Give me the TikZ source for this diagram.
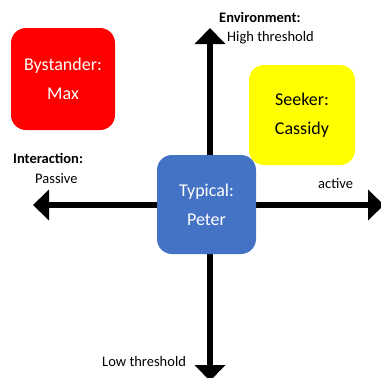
\documentclass[tikz,border=0pt]{standalone}
\usepackage{fontspec}
\setmainfont{Carlito}
\usetikzlibrary{arrows.meta}
\definecolor{boxred}{HTML}{FF0000}
\definecolor{boxyellow}{HTML}{FFFF00}
\definecolor{boxblue}{HTML}{4472C4}
\tikzset{
  quad/.style={rounded corners=15pt, align=center, inner sep=0pt,
    font=\fontsize{18}{29}\selectfont},
  axis/.style={line width=6.5pt, -{Triangle[width=30pt,length=16pt]}},
  lbl/.style={anchor=west, inner sep=0pt, font=\fontsize{14.5}{17}\selectfont}
}
\begin{document}
\begin{tikzpicture}[x=1pt,y=-1pt]
        \useasboundingbox (0,0) rectangle (381,378);
        \coordinate (O) at (210,205);
        \coordinate (N) at (210,28);
        \coordinate (S) at (210,381);
        \coordinate (W) at (33,205);
        \coordinate (E) at (384,205);
        \draw[axis] (O) -- (N);
        \draw[axis] (O) -- (S);
        \draw[axis] (O) -- (W);
        \draw[axis] (O) -- (E);
        \node[quad, fill=boxred, text=white, minimum width=104pt, minimum height=102pt] (max) at (63,79) {Bystander:\\Max};
        \node[quad, fill=boxyellow, minimum width=106pt, minimum height=100pt] (cassidy) at (302,115) {Seeker:\\Cassidy};
        \node[quad, fill=boxblue, text=white, minimum width=99pt, minimum height=99pt] (peter) at (206.5,204.5) {Typical:\\Peter};
        \node[lbl, font=\fontsize{14.5}{17}\selectfont\bfseries] (env) at (219,17) {Environment:};
        \node[lbl] (high) at (227,38) {High threshold};
        \node[lbl, font=\fontsize{14.5}{17}\selectfont\bfseries] (inter) at (13,158) {Interaction:};
        \node[lbl] (passive) at (35,179) {Passive};
        \node[lbl] (active) at (318,184) {active};
        \node[lbl] (low) at (102,362) {Low threshold};
\end{tikzpicture}
\end{document}
